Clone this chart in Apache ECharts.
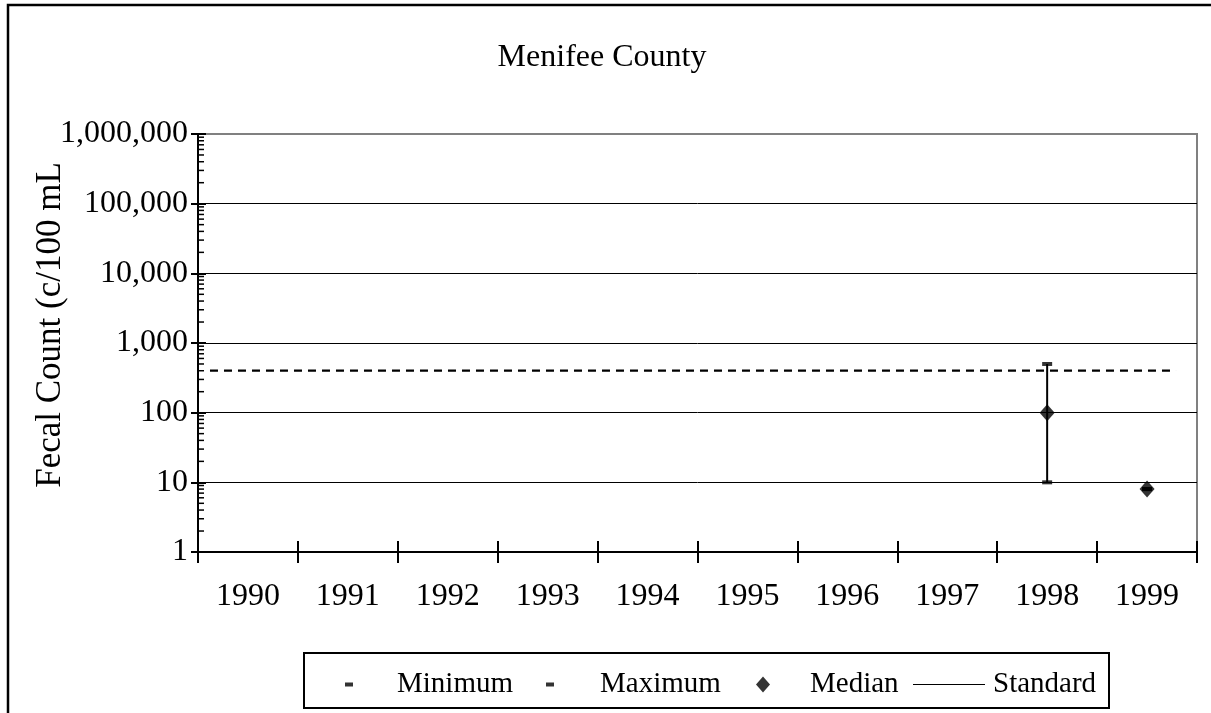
<!DOCTYPE html>
<html>
<head>
<meta charset="utf-8">
<script src="https://cdn.jsdelivr.net/npm/echarts@6/dist/echarts.min.js"></script>
<style>
html,body{margin:0;padding:0;background:#fff;}
#chart{width:1211px;height:713px;}
</style>
</head>
<body>
<div id="chart"></div>
<script>
// ---- data ----
var categories = ['1990','1991','1992','1993','1994','1995','1996','1997','1998','1999'];
var minimumValues = [null,null,null,null,null,null,null,null,10,8];
var maximumValues = [null,null,null,null,null,null,null,null,500,8];
var medianValues  = [null,null,null,null,null,null,null,null,100,8];
var standardValue = 400;
var standardSpan  = [-0.38, 9.29];   // in category units along x
var yTickValues   = [1,10,100,1000,10000,100000,1000000];

var FONT = 'Liberation Serif';

// minor tick values (2..9 within each decade)
var minorTickValues = [];
for (var d = 0; d < yTickValues.length - 1; d++) {
  for (var m = 2; m <= 9; m++) minorTickValues.push(m * yTickValues[d]);
}

function pairs(vals){
  var out = [];
  vals.forEach(function(v,i){ if (v !== null) out.push([i, v]); });
  return out;
}
var errorBars = [];
categories.forEach(function(c,i){
  if (minimumValues[i] !== null && maximumValues[i] !== null) errorBars.push([i, minimumValues[i], maximumValues[i]]);
});

var chart = echarts.init(document.getElementById('chart'), null, {renderer:'canvas'});

function legendCfg(name, left, w, h, icon, pad){
  return {
    show: true, data: [{name: name, icon: icon, itemStyle: {color: '#000', borderWidth: 0}}],
    left: left, top: 670, padding: 0, itemWidth: w, itemHeight: h,
    selectedMode: false,
    textStyle: {fontFamily: FONT, fontSize: 29, color: '#000', padding: [0,0,0,pad]}
  };
}

var option = {
  backgroundColor: '#fff',
  animation: false,
  title: {
    text: 'Menifee County', left: 597, top: 37, textAlign: 'center',
    textStyle: {fontFamily: FONT, fontSize: 32, fontWeight: 'normal', color: '#000'}
  },
  legend: [
    legendCfg('Minimum', 345, 8, 4, 'rect', 39),
    legendCfg('Maximum', 546, 8, 4, 'rect', 41),
    legendCfg('Median', 756, 14, 16, 'diamond', 35),
    legendCfg('Standard', 913, 72, 1, 'rect', 3)
  ],
  grid: {left: 198, right: 14, top: 134, bottom: 161, show: true, borderColor: '#808080', borderWidth: 2, backgroundColor: 'transparent'},
  xAxis: [
    {type: 'category', data: categories, boundaryGap: true,
     axisLine: {onZero: false, lineStyle: {color: '#000', width: 2}},
     axisTick: {show: true, inside: false, length: 11, alignWithLabel: false, lineStyle: {color: '#000', width: 2}},
     axisLabel: {fontFamily: FONT, fontSize: 32, color: '#000', margin: 29},
     splitLine: {show: false}},
    {type: 'category', data: categories, boundaryGap: true, position: 'bottom',
     axisLine: {show: false, onZero: false},
     axisTick: {show: true, inside: true, length: 11, lineStyle: {color: '#000', width: 2}},
     axisLabel: {show: false}, splitLine: {show: false}},
    {type: 'value', min: -0.5, max: 9.5, show: false, axisLine: {onZero: false}}
  ],
  yAxis: [
    {type: 'log', logBase: 10, min: 1, max: 1000000, splitNumber: 6, position: 'left',
     name: 'Fecal Count (c/100 mL', nameLocation: 'middle', nameGap: 130, nameRotate: 90,
     nameMoveOverlap: false,
     nameTextStyle: {fontFamily: FONT, fontSize: 35, color: '#000', padding: [0,0,0,36]},
     axisLine: {show: true, onZero: false, lineStyle: {color: '#000', width: 2}},
     axisTick: {show: true, inside: false, length: 7, lineStyle: {color: '#000', width: 2}},
     axisLabel: {fontFamily: FONT, fontSize: 32, color: '#000', margin: 10,
       formatter: function(v){ return Math.round(v).toLocaleString('en-US'); }},
     splitLine: {show: true, showMaxLine: false, lineStyle: {color: '#000', width: 1}}},
    {type: 'log', logBase: 10, min: 1, max: 1000000, splitNumber: 6, position: 'left', offset: 0,
     axisLine: {show: false, onZero: false},
     axisTick: {show: true, inside: true, length: 8, lineStyle: {color: '#000', width: 2}},
     axisLabel: {show: false}, splitLine: {show: false}}
  ],
  series: [
    {
      name: 'MinorTicks', type: 'custom', xAxisIndex: 0, yAxisIndex: 0, silent: true, clip: false,
      data: minorTickValues.map(function(v){ return [0, v]; }),
      renderItem: function(params, api){
        var cs = params.coordSys;
        var y = api.coord([0, api.value(1)])[1];
        return {type: 'line', shape: {x1: cs.x, y1: y, x2: cs.x + 6, y2: y},
                style: {stroke: '#000', lineWidth: 1.5}};
      },
      z: 3
    },
    {
      name: 'Standard', type: 'line', xAxisIndex: 2, yAxisIndex: 0,
      data: [[standardSpan[0], standardValue], [standardSpan[1], standardValue]],
      symbol: 'none', silent: true,
      lineStyle: {color: '#000', width: 2.2, type: [8, 6]},
      itemStyle: {color: '#000'}, z: 4
    },
    {
      name: 'ErrorBars', type: 'custom', xAxisIndex: 0, yAxisIndex: 0, silent: true,
      data: errorBars,
      renderItem: function(params, api){
        var p1 = api.coord([api.value(0), api.value(1)]);
        var p2 = api.coord([api.value(0), api.value(2)]);
        return {type: 'line', shape: {x1: p1[0], y1: p1[1], x2: p2[0], y2: p2[1]},
                style: {stroke: '#000', lineWidth: 2}};
      },
      z: 5
    },
    {
      name: 'Minimum', type: 'scatter', xAxisIndex: 0, yAxisIndex: 0,
      data: pairs(minimumValues), symbol: 'rect', symbolSize: [10, 4],
      itemStyle: {color: '#000'}, z: 6
    },
    {
      name: 'Maximum', type: 'scatter', xAxisIndex: 0, yAxisIndex: 0,
      data: pairs(maximumValues), symbol: 'rect', symbolSize: [10, 4],
      itemStyle: {color: '#000'}, z: 6
    },
    {
      name: 'Median', type: 'scatter', xAxisIndex: 0, yAxisIndex: 0,
      data: pairs(medianValues), symbol: 'diamond', symbolSize: [15, 17],
      itemStyle: {color: '#000'}, z: 7
    }
  ],
  graphic: [
    {type: 'rect', shape: {x: 8, y: 5, width: 1400, height: 900}, style: {fill: 'none', stroke: '#000', lineWidth: 2.5}, silent: true, z: 100},
    {type: 'rect', shape: {x: 304, y: 653, width: 805, height: 55}, style: {fill: 'none', stroke: '#000', lineWidth: 2}, silent: true, z: 100}
  ]
};
chart.setOption(option);
</script>
</body>
</html>
